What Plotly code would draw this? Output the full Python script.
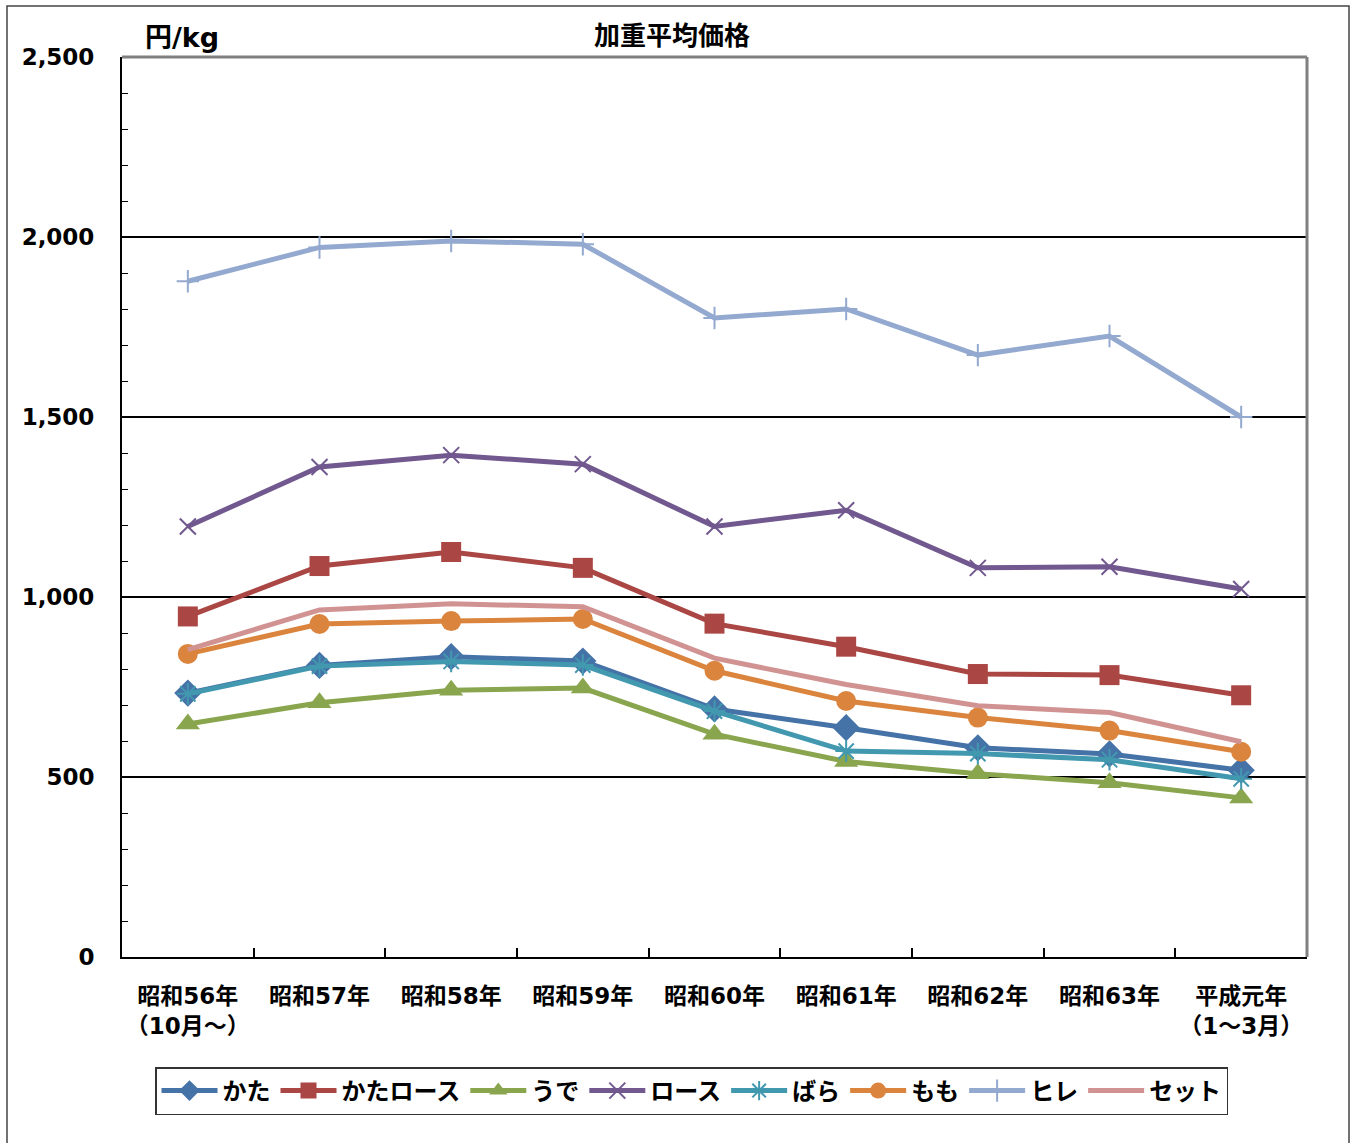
import plotly.graph_objects as go

categories = ["昭和56年<br>（10月～）", "昭和57年", "昭和58年", "昭和59年", "昭和60年",
              "昭和61年", "昭和62年", "昭和63年", "平成元年<br>（1～3月）"]

kata      = [733, 810, 834, 822, 689, 637, 581, 564, 519]
kata_rosu = [946, 1086, 1125, 1081, 926, 862, 786, 783, 727]
ude       = [647, 706, 741, 747, 619, 543, 509, 484, 442]
rosu      = [1196, 1361, 1394, 1369, 1196, 1241, 1081, 1084, 1022]
bara      = [731, 808, 821, 811, 683, 572, 565, 548, 495]
momo      = [842, 925, 933, 939, 795, 711, 665, 629, 570]
hire      = [1877, 1971, 1989, 1980, 1775, 1800, 1672, 1725, 1500]
setto     = [854, 964, 981, 973, 830, 757, 698, 679, 598]

series = [
    ("かた", kata, "#4572A7", "diamond", 21),
    ("かたロース", kata_rosu, "#AA4643", "square", 20),
    ("うで", ude, "#89A54E", "triangle-up", 21),
    ("ロース", rosu, "#71588F", "x-thin-open", 16),
    ("ばら", bara, "#4198AF", "asterisk-open", 18),
    ("もも", momo, "#DB843D", "circle", 20),
    ("ヒレ", hire, "#93A9CF", "cross-thin-open", 16),
    ("セット", setto, "#D19392", None, 0),
]

FONT = "DejaVu Sans, Noto Sans CJK JP, sans-serif"

fig = go.Figure()
for name, vals, color, sym, size in series:
    if sym is None:
        fig.add_trace(go.Scatter(x=categories, y=vals, name=name, mode="lines",
                                 line=dict(color=color, width=5)))
    else:
        open_sym = sym.endswith("open")
        fig.add_trace(go.Scatter(
            x=categories, y=vals, name=name, mode="lines+markers",
            line=dict(color=color, width=5),
            marker=dict(symbol=sym, size=size, color=color,
                        line=dict(color=color, width=2 if open_sym else 0)),
        ))

L, T = 122, 57
W, H = 1356, 1143
R = W - 1307
B = H - 957
pw = W - L - R
ph = H - T - B

def px(x):
    return (x - L) / pw

def py(y):
    return (957 - y) / ph

fig.update_layout(
    width=W, height=H,
    margin=dict(l=L, r=R, t=T, b=B, autoexpand=False),
    paper_bgcolor="white", plot_bgcolor="white",
    font=dict(family=FONT, size=22, color="black", weight="bold"),
    showlegend=True,
    legend=dict(orientation="h", x=px(155), xanchor="left", y=py(1091), yanchor="middle",
                bordercolor="#333333", borderwidth=1.5, bgcolor="white",
                font=dict(family=FONT, size=24, color="black", weight="bold"),
                itemwidth=56, tracegroupgap=0),
    xaxis=dict(
        type="category", range=[-0.5, len(categories) - 0.5],
        showgrid=False, showline=True, linecolor="black", linewidth=2,
        ticks="inside", tickson="boundaries", ticklen=9, tickcolor="black", tickwidth=1.5,
        tickfont=dict(family=FONT, size=23, color="black", weight="bold"),
        tickangle=0, automargin=False,
        ticklabelstandoff=17, fixedrange=True,
    ),
    yaxis=dict(
        range=[0, 2500], dtick=500, tickformat=",", showgrid=True, gridcolor="black",
        gridwidth=1.5, showline=True, linecolor="black", linewidth=2, zeroline=False,
        ticks="inside", ticklen=7, tickcolor="black", tickwidth=1.2,
        minor=dict(dtick=100, ticks="inside", ticklen=6, tickcolor="black", tickwidth=1.2, showgrid=False),
        tickfont=dict(family=FONT, size=23, color="black", weight="bold"),
        automargin=False,
        ticklabelstandoff=21, fixedrange=True,
    ),
    shapes=[
        dict(type="line", xref="paper", yref="paper", x0=0, x1=1, y0=1, y1=1,
             line=dict(color="#808080", width=3), layer="above"),
        dict(type="line", xref="paper", yref="paper", x0=1, x1=1, y0=0, y1=1,
             line=dict(color="#808080", width=3), layer="above"),
        dict(type="rect", xref="paper", yref="paper", x0=px(7), x1=px(1349), y0=py(1160), y1=py(6),
             line=dict(color="#444444", width=1.5), layer="below"),
    ],
    annotations=[
        dict(text="加重平均価格", xref="paper", yref="paper", x=px(672), y=py(36),
             xanchor="center", yanchor="middle", showarrow=False,
             font=dict(family=FONT, size=26, color="black", weight="bold")),
        dict(text="円/kg", xref="paper", yref="paper", x=px(143), y=py(37),
             xanchor="left", yanchor="middle", showarrow=False,
             font=dict(family=FONT, size=27, color="black", weight="bold")),
    ],
)

fig.write_html("out.html", config={"displayModeBar": False},
               post_script="document.body.style.margin='0';document.body.style.overflow='hidden';")
